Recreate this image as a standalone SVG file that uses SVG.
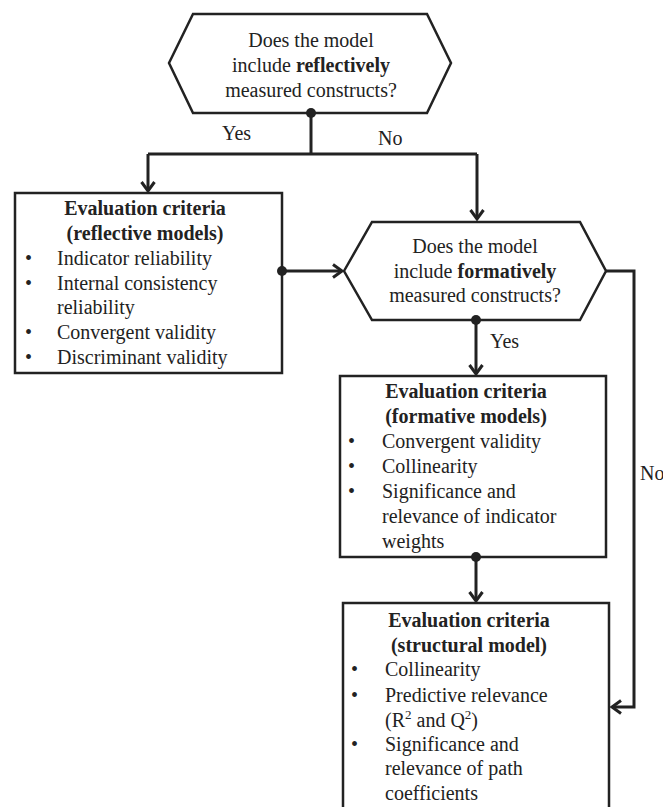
<svg xmlns="http://www.w3.org/2000/svg" width="663" height="807" viewBox="0 0 663 807">
  <style>
    .shape { fill: #ffffff; stroke: #222222; stroke-width: 2.5; }
    .line { fill: none; stroke: #222222; stroke-width: 3; }
    .dot { fill: #222222; }
    text { font-family: "Liberation Serif", "Times New Roman", serif; font-size: 20px; fill: #222222; }
    .c { text-anchor: middle; }
    .b { font-weight: bold; }
  </style>
  <defs>
    <marker id="arrow" markerUnits="userSpaceOnUse" markerWidth="20" markerHeight="20" viewBox="-12 -10 14 20" refX="0" refY="0" orient="auto">
      <path d="M-9,-6.5 L0,0 L-9,6.5" fill="none" stroke="#222222" stroke-width="3"/>
    </marker>
  </defs>

  <rect width="663" height="807" fill="#ffffff"/>

  <!-- decision: reflective constructs -->
  <g id="q-reflective">
    <polygon class="shape" points="169,63 193,14 427,14 451,63 427,113 193,113"/>
    <text class="c" x="311" y="47">Does the model</text>
    <text class="c" x="311" y="72">include <tspan class="b">reflectively</tspan></text>
    <text class="c" x="311" y="97">measured constructs?</text>
  </g>

  <!-- criteria for reflective models -->
  <g id="crit-reflective">
    <rect class="shape" x="15" y="193" width="267" height="180"/>
    <text class="c b" x="145" y="215">Evaluation criteria</text>
    <text class="c b" x="145" y="240">(reflective models)</text>
    <text x="25" y="265">•</text><text x="57" y="265">Indicator reliability</text>
    <text x="25" y="290">•</text><text x="57" y="290">Internal consistency</text>
    <text x="57" y="314">reliability</text>
    <text x="25" y="339">•</text><text x="57" y="339">Convergent validity</text>
    <text x="25" y="364">•</text><text x="57" y="364">Discriminant validity</text>
  </g>

  <!-- decision: formative constructs -->
  <g id="q-formative">
    <polygon class="shape" points="344,271 372,222 580,222 606,271 580,320 372,320"/>
    <text class="c" x="475" y="253">Does the model</text>
    <text class="c" x="475" y="278">include <tspan class="b">formatively</tspan></text>
    <text class="c" x="475" y="302">measured constructs?</text>
  </g>

  <!-- criteria for formative models -->
  <g id="crit-formative">
    <rect class="shape" x="340" y="376" width="266" height="181"/>
    <text class="c b" x="466" y="398">Evaluation criteria</text>
    <text class="c b" x="466" y="423">(formative models)</text>
    <text x="348" y="448">•</text><text x="382" y="448">Convergent validity</text>
    <text x="348" y="473">•</text><text x="382" y="473">Collinearity</text>
    <text x="348" y="498">•</text><text x="382" y="498">Significance and</text>
    <text x="382" y="523">relevance of indicator</text>
    <text x="382" y="548">weights</text>
  </g>

  <!-- criteria for the structural model -->
  <g id="crit-structural">
    <path class="shape" d="M343,815 V603 H609 V815"/>
    <text class="c b" x="469" y="627">Evaluation criteria</text>
    <text class="c b" x="469" y="652">(structural model)</text>
    <text x="351" y="676">•</text><text x="385" y="676">Collinearity</text>
    <text x="351" y="702">•</text><text x="385" y="702">Predictive relevance</text>
    <text x="385" y="727">(R<tspan dy="-8" font-size="13">2</tspan><tspan dy="8"> and Q</tspan><tspan dy="-8" font-size="13">2</tspan><tspan dy="8">)</tspan></text>
    <text x="351" y="751">•</text><text x="385" y="751">Significance and</text>
    <text x="385" y="775">relevance of path</text>
    <text x="385" y="800">coefficients</text>
  </g>

  <!-- connectors -->
  <g id="connectors">
    <path class="line" d="M311,113 V154"/>
    <path class="line" d="M148,154 H477"/>
    <path class="line" d="M148,154 V191" marker-end="url(#arrow)"/>
    <path class="line" d="M477,154 V219" marker-end="url(#arrow)"/>
    <path class="line" d="M282,271 H342" marker-end="url(#arrow)"/>
    <path class="line" d="M606,271 H634 V707 H612" marker-end="url(#arrow)"/>
    <path class="line" d="M476,320 V374" marker-end="url(#arrow)"/>
    <path class="line" d="M476,557 V601" marker-end="url(#arrow)"/>
    <circle class="dot" cx="311" cy="113" r="5"/>
    <circle class="dot" cx="282" cy="271" r="5"/>
    <circle class="dot" cx="476" cy="320" r="5"/>
    <circle class="dot" cx="476" cy="557" r="5"/>
    <text x="222" y="140">Yes</text>
    <text x="378" y="145">No</text>
    <text x="490" y="348">Yes</text>
    <text x="640" y="480">No</text>
  </g>
</svg>
